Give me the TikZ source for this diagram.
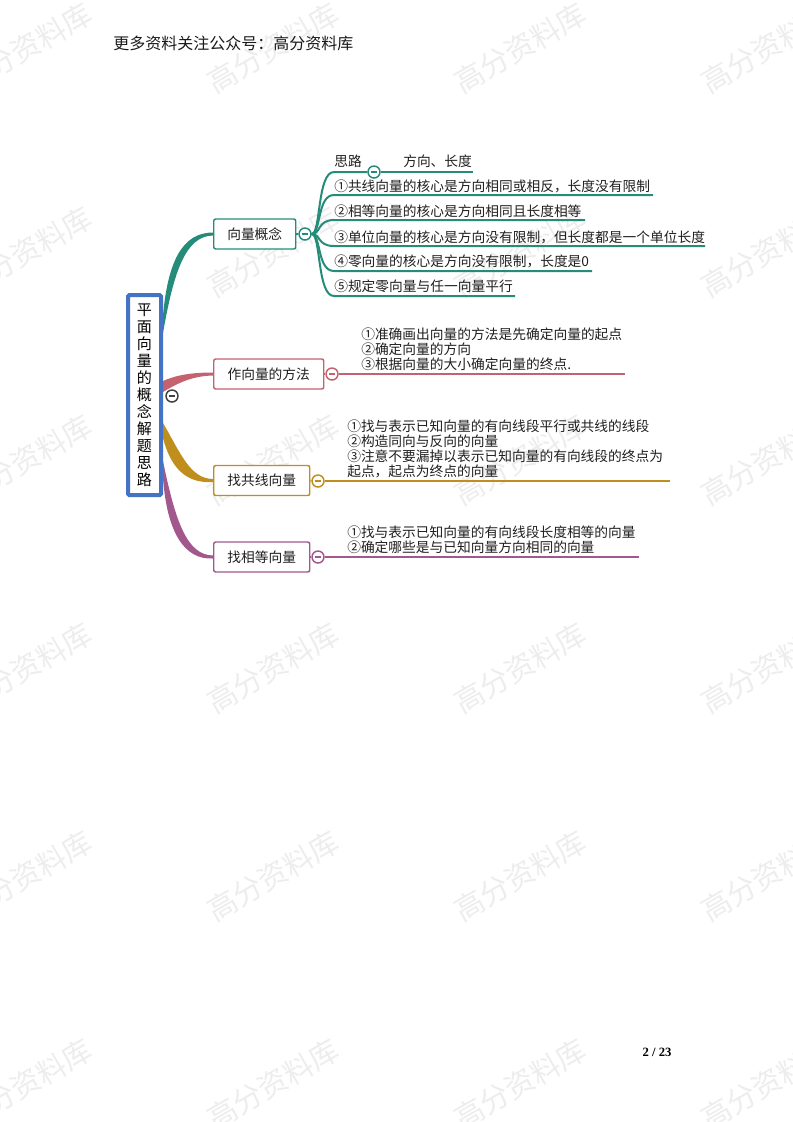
\documentclass[tikz,border=0pt]{standalone}
\usepackage{fontspec}
\setmainfont{Liberation Serif}
\newfontfamily\cjk{Noto Sans CJK SC}
\usetikzlibrary{calc,backgrounds}
\definecolor{tealc}{RGB}{38,140,122}
\definecolor{rosec}{RGB}{196,98,112}
\definecolor{goldc}{RGB}{192,142,28}
\definecolor{plumc}{RGB}{162,88,140}
\definecolor{rootblue}{RGB}{68,114,196}
\begin{document}
\begin{tikzpicture}[x=0.75pt,y=-0.75pt,
  every node/.style={inner sep=0pt},
  txt/.style={font=\cjk\fontsize{10.3}{11.25}\selectfont, text=black!88, anchor=west, align=left},
  topic/.style={draw=#1, fill=white, line width=1.1pt, rounded corners=1.5pt, minimum height=22.5pt, anchor=west, font=\cjk\fontsize{10.3}{12}\selectfont, text=black!88},
  fold/.style={circle, draw=#1, fill=white, line width=1.1pt, minimum size=9pt, path picture={\draw[#1, line width=1.1pt] ([xshift=-2.6pt]path picture bounding box.center) -- ([xshift=2.6pt]path picture bounding box.center);}},
  wm/.style={font=\cjk\fontsize{22}{22}\selectfont, text=black!7, rotate=30},
  sub/.style={draw=#1, line width=1.5pt},
  under/.style={draw=#1, line width=1.3pt},
]
\useasboundingbox (0,0) rectangle (793,1122);
% watermarks
\begin{scope}[on background layer]
\foreach \wx in {26,273,520,767}
  \foreach \wy in {48,252,460,668,876,1084}
    \node[wm] (wm-\wx-\wy) at (\wx,\wy) {高分资料库};
\end{scope}

% header and page number
\node[font=\cjk\fontsize{12}{12}\selectfont, anchor=west, text=black!90] (hdr) at (113,43) {更多资料关注公众号：高分资料库};
\node[font=\bfseries\fontsize{9.5}{10}\selectfont] (pg) at (657,1052) {2 / 23};

% root
\node[draw=rootblue, line width=3pt, rounded corners=1pt, minimum width=24.75pt, minimum height=150pt, fill=white, font=\cjk\fontsize{11.3}{12.75}\selectfont, align=center] (root) at (144.5,395) {平\\面\\向\\量\\的\\概\\念\\解\\题\\思\\路};
\node[fold=black!75] (f0) at (172,396) {};

% topics
\node[topic=tealc, minimum width=61.5pt] (t1) at (213,234) {向量概念};
\node[topic=rosec, minimum width=82.5pt] (t2) at (213,374) {作向量的方法};
\node[topic=goldc, minimum width=72pt] (t3) at (213,480.5) {找共线向量};
\node[topic=plumc, minimum width=72pt] (t4) at (213,557) {找相等向量};

% tapered branches
\begin{scope}[on background layer]
\fill[tealc] ($(root.east)+(0,-80)$) .. controls (168,262) and (182,232.5) .. ($(t1.west)+(0,-1.5)$) -- ($(t1.west)+(0,1.5)$) .. controls (186,236) and (174,270) .. ($(root.east)+(0,-62)$) -- cycle;
\fill[rosec] ($(root.east)+(0,-14)$) .. controls (176,375) and (192,372.5) .. ($(t2.west)+(0,-1.5)$) -- ($(t2.west)+(0,1.5)$) .. controls (192,376) and (178,383) .. ($(root.east)+(0,-3)$) -- cycle;
\fill[goldc] ($(root.east)+(0,28)$) .. controls (180,452) and (190,479) .. ($(t3.west)+(0,-1.5)$) -- ($(t3.west)+(0,1.5)$) .. controls (184,484) and (170,465) .. ($(root.east)+(0,43)$) -- cycle;
\fill[plumc] ($(root.east)+(0,66)$) .. controls (176,525) and (188,555) .. ($(t4.west)+(0,-1.5)$) -- ($(t4.west)+(0,1.5)$) .. controls (184,560) and (167,532) .. ($(root.east)+(0,83)$) -- cycle;
\end{scope}

% fold circles
\node[fold=tealc] (f1) at (305,234) {};
\node[fold=rosec] (f2) at (332,374) {};
\node[fold=goldc] (f3) at (318,481) {};
\node[fold=plumc] (f4) at (318,557) {};
\node[fold=tealc] (f5) at (374,172) {};

\begin{scope}[on background layer]
\draw[sub=tealc] (t1.east) -- (f1);
\draw[sub=rosec] (t2.east) -- (f2);
\draw[sub=goldc] (t3.east) -- (f3);
\draw[sub=plumc] (t4.east) -- (f4);
\end{scope}

% end coordinates
\coordinate (e0) at (473,172);
\coordinate (e1) at (653,195);
\coordinate (e2) at (585,220);
\coordinate (e3) at (705,246);
\coordinate (e4) at (592,271);
\coordinate (e5) at (515,296);
\coordinate (er) at (625,374);
\coordinate (eg) at (670,481);
\coordinate (ep) at (639,557);

% teal sub-branches
\draw[sub=tealc] (f1.east) .. controls (321,234) and (317,172) .. (334,172) -- (f5.west);
\draw[under=tealc] (f5.east) -- (e0);
\draw[sub=tealc] (f1.east) .. controls (321,234) and (317,195) .. (334,195) -- (e1);
\draw[sub=tealc] (f1.east) .. controls (321,234) and (317,220) .. (334,220) -- (e2);
\draw[sub=tealc] (f1.east) .. controls (321,234) and (317,246) .. (334,246) -- (e3);
\draw[sub=tealc] (f1.east) .. controls (321,234) and (317,271) .. (334,271) -- (e4);
\draw[sub=tealc] (f1.east) .. controls (321,234) and (317,296) .. (334,296) -- (e5);

\draw[under=rosec] (f2.east) -- (er);
\draw[under=goldc] (f3.east) -- (eg);
\draw[under=plumc] (f4.east) -- (ep);

% texts
\node[txt] (s0) at (334,161) {思路};
\node[txt] (s0b) at (403,161) {方向、长度};
\node[txt] (s1) at (334,186) {①共线向量的核心是方向相同或相反，长度没有限制};
\node[txt] (s2) at (334,211) {②相等向量的核心是方向相同且长度相等};
\node[txt] (s3) at (334,237) {③单位向量的核心是方向没有限制，但长度都是一个单位长度};
\node[txt] (s4) at (334,261) {④零向量的核心是方向没有限制，长度是0};
\node[txt] (s5) at (334,286) {⑤规定零向量与任一向量平行};

\node[txt] (rt) at (361,349) {①准确画出向量的方法是先确定向量的起点\\②确定向量的方向\\③根据向量的大小确定向量的终点.};
\node[txt] (gt) at (347,448.5) {①找与表示已知向量的有向线段平行或共线的线段\\②构造同向与反向的向量\\③注意不要漏掉以表示已知向量的有向线段的终点为\\起点，起点为终点的向量};
\node[txt] (pt) at (347,539.5) {①找与表示已知向量的有向线段长度相等的向量\\②确定哪些是与已知向量方向相同的向量};
\end{tikzpicture}
\end{document}
